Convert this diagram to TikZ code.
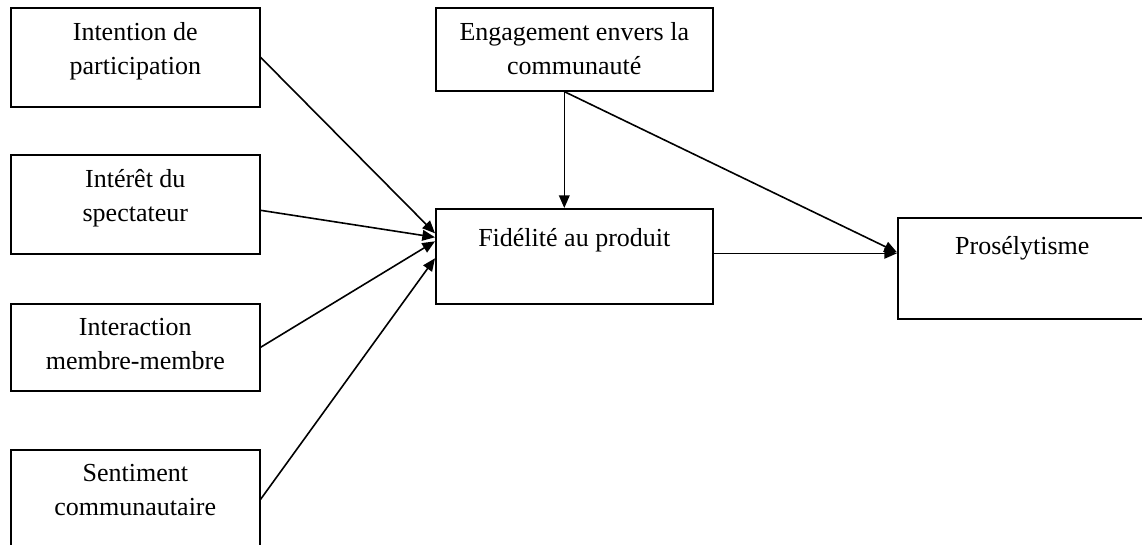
\documentclass[tikz,border=0pt]{standalone}
\usepackage{fontspec}
\setmainfont{Liberation Serif}
\usetikzlibrary{arrows.meta,calc}

\tikzset{every picture/.style={line width=0.75pt}}
\tikzset{
  varbox/.style={draw, line width=1.2pt, rectangle, anchor=north west, inner sep=0pt},
  varlbl/.style={align=center, anchor=north, inner sep=0pt,
    font=\fontsize{19.5}{25.5}\selectfont, execute at begin node=\strut},
  link/.style={line width=1.2pt, -{Triangle[length=9.5pt,width=8pt]}}
}

\begin{document}
\begin{tikzpicture}[x=0.75pt,y=0.75pt,yscale=-1,xscale=1]
\useasboundingbox (0,0) rectangle (1142,544);

%Shape: Rectangle [left column]
\node[varbox, minimum width=186.75pt, minimum height=74.25pt] (intent) at (10,7) {};
\node[varbox, minimum width=186.75pt, minimum height=74.25pt] (interet) at (10,154) {};
\node[varbox, minimum width=186.75pt, minimum height=65.25pt] (interact) at (10,303) {};
\node[varbox, minimum width=186.75pt, minimum height=74.25pt] (sentim) at (10,449) {};
%Shape: Rectangle [middle column]
\node[varbox, minimum width=207.75pt, minimum height=62.25pt] (engage) at (435,7) {};
\node[varbox, minimum width=207.75pt, minimum height=71.25pt] (fidel) at (435,208) {};
%Shape: Rectangle [right]
\node[varbox, minimum width=186.75pt, minimum height=75.75pt] (prosel) at (897,217) {};

%Straight Lines
\draw[link] (intent.east) -- ($(fidel.west)+(0,-23)$);
\draw[link] ($(interet.east)+(0,6)$) -- ($(fidel.west)+(0,-19)$);
\draw[link] (interact.east) -- ($(fidel.west)+(0,-15)$);
\draw[link] (sentim.east) -- ($(fidel.west)+(0,2)$);
\draw[link] ($(engage.south)+(-10,0)$) -- ($(fidel.north)+(-10,0)$);
\draw[link] ($(engage.south)+(-10,0)$) -- ($(prosel.west)+(0,-16)$);
\draw[link] ($(fidel.east)+(0,-3)$) -- ($(prosel.west)+(0,-15)$);

% Text Node
\node[varlbl] (intent-t) at ($(intent.north)+(0,15)$) {Intention de\\participation};
% Text Node
\node[varlbl] (interet-t) at ($(interet.north)+(0,15)$) {Intérêt du\\spectateur};
% Text Node
\node[varlbl] (interact-t) at ($(interact.north)+(0,15)$) {Interaction\\membre-membre};
% Text Node
\node[varlbl] (sentim-t) at ($(sentim.north)+(0,15)$) {Sentiment\\communautaire};
% Text Node
\node[varlbl] (engage-t) at ($(engage.north)+(0,15)$) {Engagement envers la\\communauté};
% Text Node
\node[varlbl] (fidel-t) at ($(fidel.north)+(0,14)$) {Fidélité au produit};
% Text Node
\node[varlbl] (prosel-t) at ($(prosel.north)+(0,13)$) {Prosélytisme};

\end{tikzpicture}
\end{document}
